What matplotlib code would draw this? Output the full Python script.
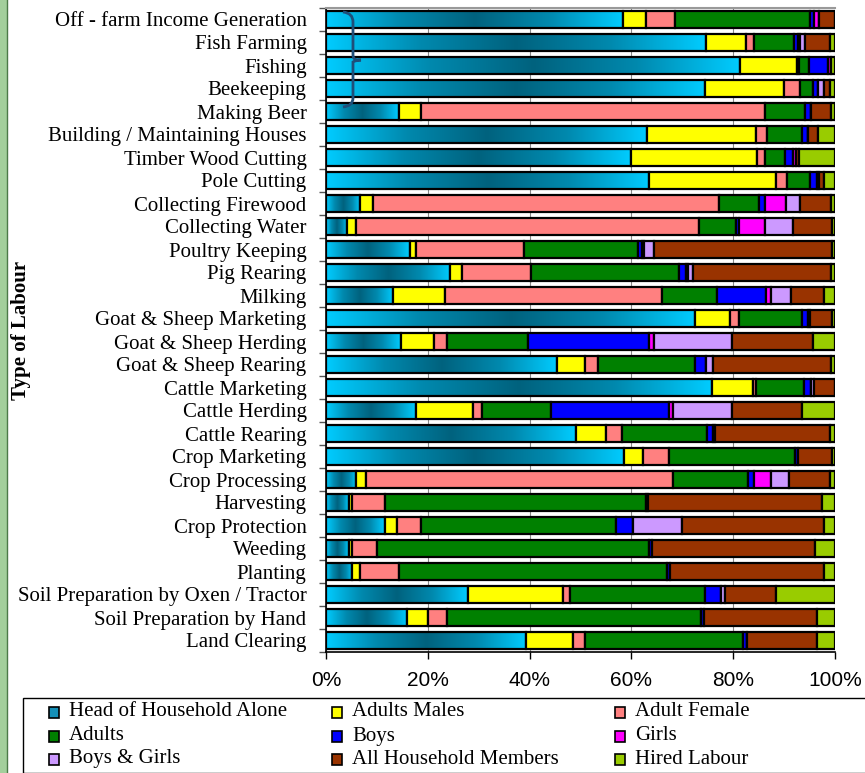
import numpy as np
import matplotlib
matplotlib.use("Agg")
import matplotlib.pyplot as plt
from matplotlib.patches import Rectangle, PathPatch
from matplotlib.path import Path
from matplotlib.colors import LinearSegmentedColormap

categories = [
    "Off - farm Income Generation", "Fish Farming", "Fishing", "Beekeeping",
    "Making Beer", "Building / Maintaining Houses", "Timber Wood Cutting",
    "Pole Cutting", "Collecting Firewood", "Collecting Water", "Poultry Keeping",
    "Pig Rearing", "Milking", "Goat & Sheep Marketing", "Goat & Sheep Herding",
    "Goat & Sheep Rearing", "Cattle Marketing", "Cattle Herding", "Cattle Rearing",
    "Crop Marketing", "Crop Processing", "Harvesting", "Crop Protection",
    "Weeding", "Planting", "Soil Preparation by Oxen / Tractor",
    "Soil Preparation by Hand", "Land Clearing",
]

series_names = [
    "Head of Household Alone", "Adults Males", "Adult Female",
    "Adults", "Boys", "Girls",
    "Boys & Girls", "All Household Members", "Hired Labour",
]

head =       [58.4, 74.6, 81.5, 74.5, 14.3, 63.1, 59.9, 63.5, 6.7, 4.2, 16.5, 24.4, 13.2, 72.5, 14.7, 45.4, 75.8, 17.6, 49.1, 58.5, 5.9, 4.5, 11.5, 4.5, 5.2, 27.8, 16.0, 39.3]
adult_male = [4.4, 8.0, 11.2, 15.4, 4.4, 21.4, 24.8, 24.9, 2.6, 1.7, 1.1, 2.3, 10.2, 6.9, 6.6, 5.5, 8.0, 11.2, 6.0, 3.8, 2.0, 0.7, 2.4, 0.7, 1.5, 18.7, 4.1, 9.3]
adult_female = [5.8, 1.5, 0.3, 3.2, 67.5, 2.1, 1.5, 2.2, 68.0, 67.4, 21.3, 13.6, 42.7, 1.8, 2.4, 2.5, 0.6, 1.8, 3.0, 5.1, 60.3, 6.3, 4.8, 4.8, 7.6, 1.4, 3.6, 2.3]
adults =     [26.4, 7.9, 2.0, 2.5, 8.0, 6.9, 4.0, 4.4, 7.8, 7.2, 22.3, 29.0, 10.8, 12.4, 16.0, 19.0, 9.5, 13.7, 16.8, 24.7, 14.8, 51.4, 38.3, 53.5, 52.6, 26.6, 50.0, 31.1]
boys =       [0.9, 0.7, 3.7, 1.1, 1.0, 1.1, 1.5, 1.4, 1.1, 0.7, 0.8, 1.4, 9.5, 1.0, 23.8, 2.3, 1.3, 23.0, 1.2, 0.7, 1.1, 0.4, 3.4, 0.5, 0.7, 3.1, 0.6, 0.8]
girls =      [1.0, 0.5, 0.7, 0.0, 0.0, 0.0, 0.6, 0.5, 4.2, 5.0, 0.5, 0.5, 1.0, 0.4, 1.0, 0.0, 0.0, 0.8, 0.4, 0.0, 3.3, 0.0, 0.0, 0.0, 0.0, 0.0, 0.0, 0.0]
boys_girls = [0.0, 1.0, 0.0, 1.1, 0.0, 0.0, 0.0, 0.0, 2.7, 5.5, 2.0, 1.0, 4.0, 0.0, 15.3, 1.4, 0.7, 11.7, 0.0, 0.0, 3.6, 0.0, 9.6, 0.0, 0.0, 0.7, 0.0, 0.0]
all_members = [3.1, 4.8, 0.0, 1.2, 4.1, 2.1, 0.6, 1.0, 6.2, 7.8, 35.0, 27.1, 6.5, 4.5, 15.9, 23.2, 4.1, 13.8, 22.5, 6.7, 8.0, 34.2, 27.8, 32.1, 30.2, 10.2, 22.2, 13.7]
hired =      [0.0, 1.0, 0.7, 1.0, 0.7, 3.3, 7.1, 2.1, 0.7, 0.5, 0.5, 0.7, 2.1, 0.5, 4.3, 0.7, 0.0, 6.4, 1.0, 0.5, 1.0, 2.5, 2.2, 3.9, 2.2, 11.5, 3.5, 3.5]

xtick_values = [0, 20, 40, 60, 80, 100]
xtick_labels = ["0%", "20%", "40%", "60%", "80%", "100%"]

colors = ["#00CCFF", "#FFFF00", "#FF8080", "#008000", "#0000FF",
          "#FF00FF", "#CC99FF", "#993300", "#99CC00"]

W, H = 865, 773
fig = plt.figure(figsize=(W / 100, H / 100), dpi=100)
fig.patch.set_facecolor("white")

# left decorative strip
fig.add_artist(Rectangle((0, 0), 7 / W, 1, transform=fig.transFigure,
                         facecolor="#A3CF9C", edgecolor="none", zorder=0))
fig.add_artist(plt.Line2D([7.5 / W, 7.5 / W], [0, 1], transform=fig.transFigure,
                          color="#4C7A48", lw=1.0))

ax = fig.add_axes([326 / W, 1 - 652 / H, (835 - 326) / W, (652 - 8) / H])

data = np.array([head, adult_male, adult_female, adults, boys, girls,
                 boys_girls, all_members, hired], dtype=float)
totals = data.sum(axis=0)
pct = data / totals * 100.0

n = len(categories)
y = np.arange(n)
bar_h = 0.7

grad_cmap = LinearSegmentedColormap.from_list(
    "hh", ["#00CCFF", "#0089AE", "#00627E", "#0089AE", "#00CCFF"])
grad = np.linspace(0, 1, 256).reshape(1, -1)

left = np.zeros(n)
for i, name in enumerate(series_names):
    vals = pct[i]
    if i == 0:
        bars = ax.barh(y, vals, left=left, height=bar_h, facecolor="none",
                       edgecolor="black", linewidth=1.6, zorder=3, label=name)
        for b in bars:
            x0, y0 = b.get_x(), b.get_y()
            w, h = b.get_width(), b.get_height()
            im = ax.imshow(grad, cmap=grad_cmap, aspect="auto",
                           extent=(x0, x0 + w, y0 + h, y0), zorder=2,
                           interpolation="bilinear")
            im.set_clip_path(b)
    else:
        ax.barh(y, vals, left=left, height=bar_h, color=colors[i],
                edgecolor="black", linewidth=1.6, zorder=3, label=name)
    left += vals

ax.set_xlim(0, 100)
ax.set_ylim(n - 0.5, -0.5)
ax.set_yticks(y)
ax.set_yticklabels(categories, family="Liberation Serif", fontsize=15)
ax.set_yticks(np.arange(n + 1) - 0.5, minor=True)
ax.tick_params(axis="y", which="major", length=0, pad=14)
ax.tick_params(axis="y", which="minor", length=5, width=1, color="#555555", direction="out")
ax.set_xticks(xtick_values)
ax.set_xticklabels(xtick_labels, family="Liberation Sans", fontsize=15)
ax.tick_params(axis="x", length=5, width=1, direction="out", pad=9)
ax.xaxis.grid(True, color="#888888", lw=0.8, zorder=0)
ax.set_axisbelow(True)
ax.spines["right"].set_visible(False)
ax.spines["top"].set_color("#999999")
ax.spines["top"].set_linewidth(1.5)
ax.spines["left"].set_linewidth(1.2)
ax.spines["bottom"].set_linewidth(1.2)

fig.text(21 / W, 1 - 330 / H, "Type of Labour", rotation=90, ha="center",
         va="center", family="Liberation Serif", fontweight="bold", fontsize=15)

# curly brace decoration
bx = lambda px: px / W
by = lambda py: 1 - py / H
verts = [(bx(343), by(12)), (bx(353), by(13)), (bx(353), by(22)),
         (bx(353), by(55)),
         (bx(353), by(60)), (bx(358), by(60)), (bx(361), by(60)),
         (bx(356), by(60)), (bx(353), by(62)), (bx(353), by(68)),
         (bx(353), by(98)),
         (bx(353), by(106)), (bx(343), by(107))]
codes = [Path.MOVETO, Path.CURVE3, Path.CURVE3, Path.LINETO,
         Path.CURVE3, Path.CURVE3, Path.LINETO,
         Path.CURVE3, Path.CURVE3, Path.CURVE3, Path.LINETO,
         Path.CURVE3, Path.CURVE3]
fig.add_artist(PathPatch(Path(verts, codes), transform=fig.transFigure,
                         facecolor="none", edgecolor="#1F4E79", lw=2, zorder=10))

# legend box
fig.add_artist(Rectangle((23 / W, 0), 1.2, (773 - 698) / H, transform=fig.transFigure,
                         facecolor="white", edgecolor="black", lw=1.0, zorder=5))
col_x = [49, 332, 615]
row_y = [712, 736, 759]
for i, name in enumerate(series_names):
    r, c = divmod(i, 3)
    hx, hy = col_x[c], row_y[r]
    fc = "#1590B8" if i == 0 else colors[i]
    fig.add_artist(Rectangle((hx / W, 1 - (hy + 6) / H), 10 / W, 11 / H,
                             transform=fig.transFigure, facecolor=fc,
                             edgecolor="black", lw=1.2, zorder=6))
    fig.text((hx + 20) / W, 1 - hy / H, name, ha="left", va="center",
             family="Liberation Serif", fontsize=15, zorder=6)

fig.savefig("out.png", dpi=100)
